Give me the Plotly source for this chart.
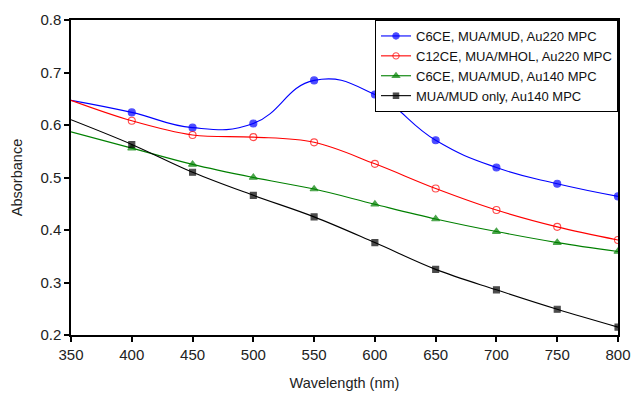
import plotly.graph_objects as go

wavelength = [350, 400, 450, 500, 550, 600, 650, 700, 750, 800]
series_names = [
    "C6CE, MUA/MUD, Au220 MPC",
    "C12CE, MUA/MHOL, Au220 MPC",
    "C6CE, MUA/MUD, Au140 MPC",
    "MUA/MUD only, Au140 MPC",
]
c6ce_au220 = [0.647, 0.624, 0.595, 0.603, 0.685, 0.658, 0.571, 0.519, 0.488, 0.464]
c12ce_au220 = [0.647, 0.608, 0.581, 0.577, 0.567, 0.526, 0.479, 0.438, 0.406, 0.381]
c6ce_au140 = [0.587, 0.556, 0.525, 0.500, 0.478, 0.449, 0.421, 0.397, 0.376, 0.359]
mud_only_au140 = [0.610, 0.563, 0.510, 0.466, 0.425, 0.376, 0.325, 0.286, 0.249, 0.215]
x_ticks = [350, 400, 450, 500, 550, 600, 650, 700, 750, 800]
y_ticks = [0.2, 0.3, 0.4, 0.5, 0.6, 0.7, 0.8]

styles = [
    dict(color="#0000FF", symbol="circle", size=7, smoothing=1.3),
    dict(color="#FF0000", symbol="circle-open", size=7, smoothing=1.0),
    dict(color="#008000", symbol="triangle-up", size=7, smoothing=1.0),
    dict(color="#000000", symbol="square", size=6, smoothing=1.0),
]
values = [c6ce_au220, c12ce_au220, c6ce_au140, mud_only_au140]

fig = go.Figure()
for i, (name, vals, st) in enumerate(zip(series_names, values, styles)):
    sizes = [0] + [st["size"]] * (len(wavelength) - 1)
    fig.add_trace(go.Scatter(
        x=wavelength, y=vals, name=name, mode="lines+markers",
        line=dict(color=st["color"], width=1.1, shape="spline", smoothing=st["smoothing"]),
        marker=dict(color=st["color"], symbol=st["symbol"], size=sizes,
                    line=dict(color=st["color"], width=1.1)),
    ))

axis_common = dict(
    showline=True, linecolor="black", linewidth=1.5, mirror=True,
    ticks="outside", ticklen=5, tickcolor="black", tickwidth=1.5,
    showgrid=False, zeroline=False, automargin=False,
    tickfont=dict(family="Liberation Sans, Arial", size=15, color="#222"),
    title_font=dict(family="Liberation Sans, Arial", size=14.5, color="#222"),
)
fig.update_xaxes(range=[350, 800], tickvals=x_ticks, title_text="Wavelength (nm)",
                 title_standoff=16, **axis_common)
fig.update_yaxes(range=[0.2, 0.8], tickvals=y_ticks, tickformat=".1f",
                 title_text="Absorbance", title_standoff=14, **axis_common)

fig.update_layout(
    width=634, height=393,
    margin=dict(l=71, r=16, t=20, b=58),
    plot_bgcolor="white", paper_bgcolor="white",
    legend=dict(x=1, y=1, xanchor="right", yanchor="top",
                bgcolor="white", bordercolor="black", borderwidth=1,
                font=dict(family="Liberation Sans, Arial", size=13, color="#111"),
                itemwidth=30),
)
fig.write_html("out.html", config={"displayModeBar": False},
               post_script="document.body.style.margin='0';document.body.style.overflow='hidden';")
